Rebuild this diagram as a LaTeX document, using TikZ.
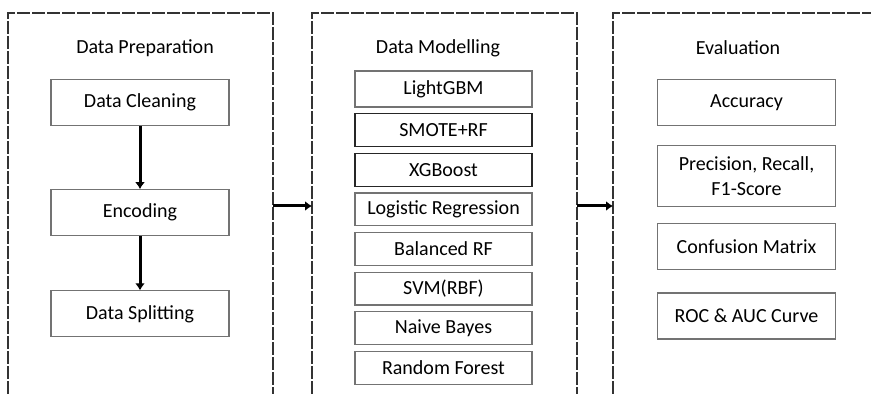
\documentclass[tikz,border=0pt]{standalone}
\usepackage{fontspec}
\setmainfont{Carlito}
\usetikzlibrary{positioning, arrows.meta}

\tikzset{
  stage/.style={draw=black!80, line width=0.8pt, dash pattern=on 6.5pt off 1pt},
  box/.style={draw=black!55, line width=0.6pt, minimum width=89pt, minimum height=23pt,
    inner sep=1pt, font=\fontsize{10}{12.5}\selectfont},
  model/.style={box, minimum width=88.5pt, minimum height=16.4pt},
  dark/.style={draw=black!85},
  title/.style={font=\fontsize{10}{12}\selectfont},
  flow/.style={-{Latex[length=3.5pt,width=5pt]}, line width=1.5pt, black}
}

\begin{document}
\begin{tikzpicture}[x=0.5pt, y=-0.5pt]
        \useasboundingbox (0,0) rectangle (871,394);
        % stage frames (open at the bottom)
        \draw[stage] (8,394) -- (8,13) -- (273,13) -- (273,394);
        \draw[stage] (312,394) -- (312,13) -- (577,13) -- (577,394);
        \draw[stage] (613,394) -- (613,13) -- (871,13);
        \coordinate (prepout) at (273,206);
        \coordinate (modin) at (312,206);
        \coordinate (modout) at (577,206);
        \coordinate (evalin) at (613,206);
        %---------------------------
        \node[title] (prep) at (145,48) {Data Preparation};
        \node[box] (clean) at (140,102.5) {Data Cleaning};
        \node[box, below=31.5pt of clean] (encode) {Encoding};
        \node[box, below=27pt of encode] (split) {Data Splitting};
        %---------------------------
        \node[title] (modl) at (438,48) {Data Modelling};
        \node[model, minimum height=18pt] (lgbm) at (443.5,89) {LightGBM};
        \node[model, dark, below=2.8pt of lgbm] (smote) {SMOTE+RF};
        \node[model, dark, below=2.8pt of smote] (xgb) {XGBoost};
        \node[model, below=2.8pt of xgb] (logreg) {Logistic Regression};
        \node[model, below=2.8pt of logreg] (brf) {Balanced RF};
        \node[model, below=2.8pt of brf] (svm) {SVM(RBF)};
        \node[model, below=2.8pt of svm] (nb) {Naive Bayes};
        \node[model, below=2.8pt of nb] (rf) {Random Forest};
        %---------------------------
        \node[title] (eval) at (738,48) {Evaluation};
        \node[box] (acc) at (746.5,102.5) {Accuracy};
        \node[box, minimum height=30.5pt, align=center, below=9.5pt of acc] (prf) {Precision, Recall,\\F1-Score};
        \node[box, below=8pt of prf] (conf) {Confusion Matrix};
        \node[box, below=11pt of conf] (roc) {ROC \& AUC Curve};
        %--------------------------
        \draw[flow] (clean) -- (encode);
        \draw[flow] (encode) -- (split);
        \draw[flow] (prepout) -- (modin);
        \draw[flow] (modout) -- (evalin);
\end{tikzpicture}
\end{document}
